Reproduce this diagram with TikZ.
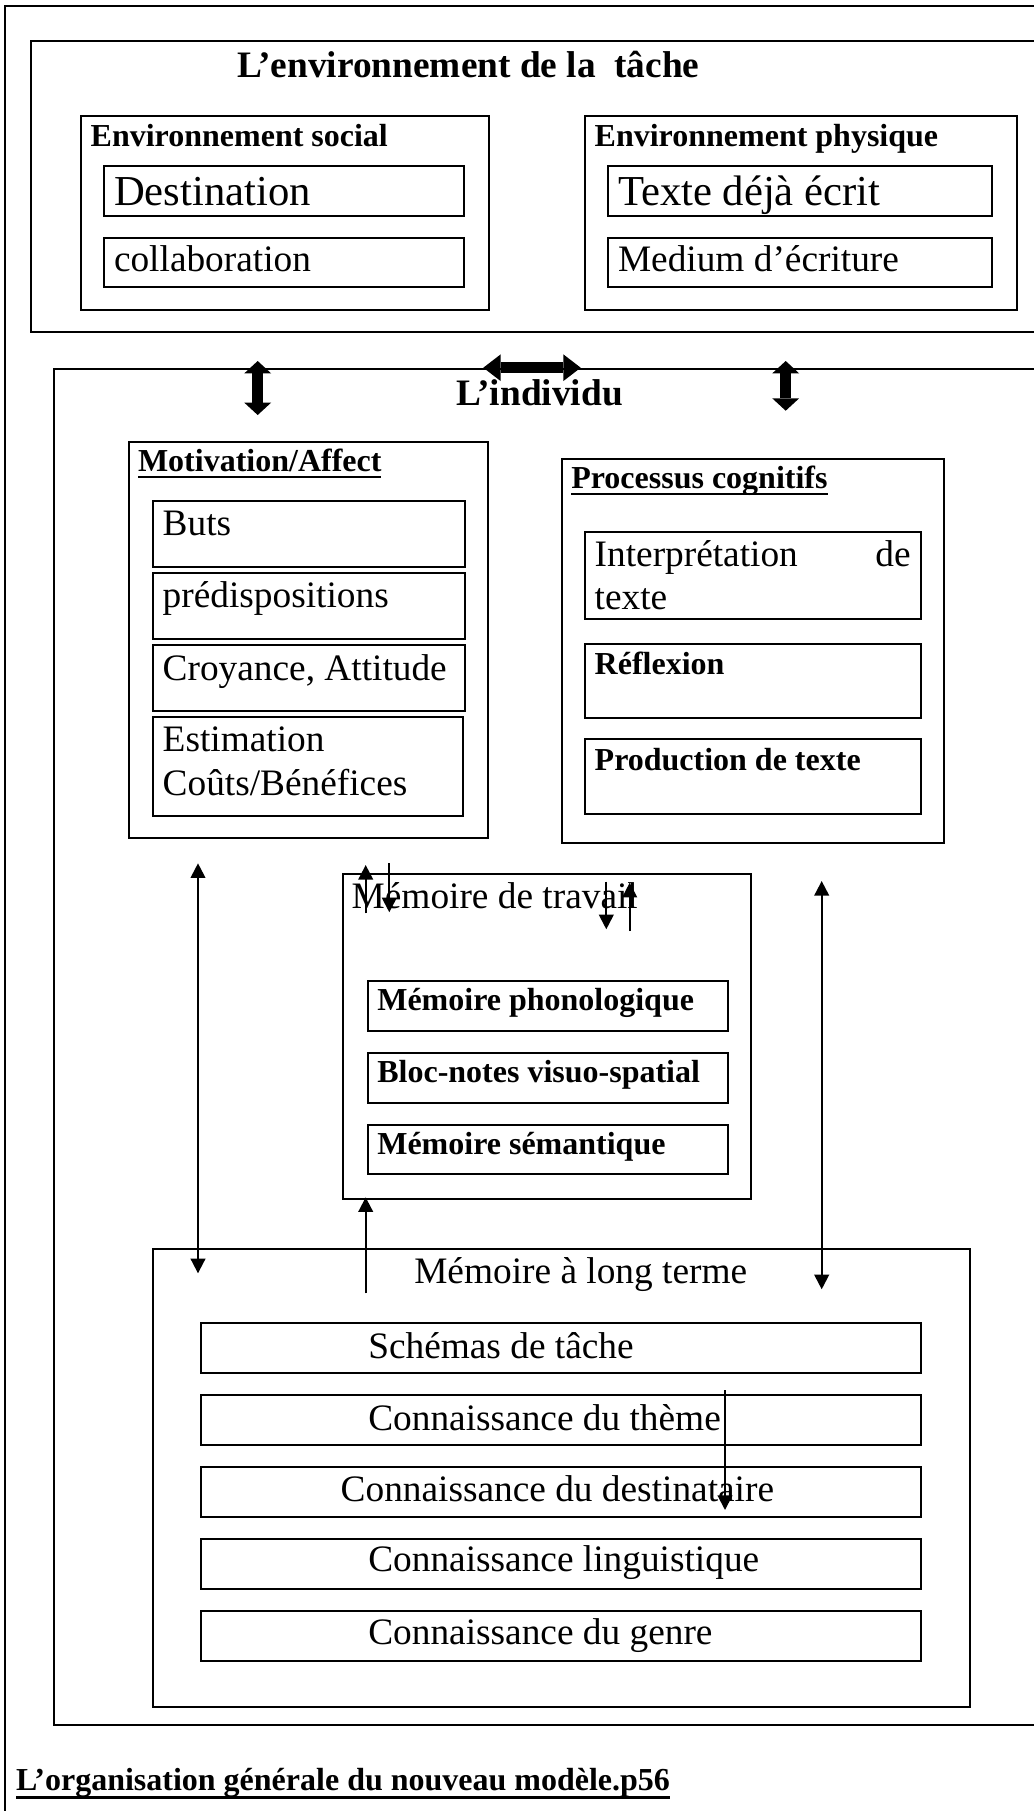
\documentclass[tikz,border=0pt]{standalone}
\usepackage{fontspec}
\setmainfont{Liberation Serif}
\usetikzlibrary{arrows.meta}
\newcommand\szA{\fontsize{12pt}{14pt}\selectfont}
\newcommand\szB{\fontsize{14pt}{16pt}\selectfont}
\newcommand\szC{\fontsize{16pt}{19pt}\selectfont}
\newcommand\mybox[5]{\node[bx, minimum width={(#4-#2)*0.375pt}, minimum height={(#5-#3)*0.375pt}] (#1) at (#2,#3) {};}
\begin{document}
\begin{tikzpicture}[x=0.375pt,y=-0.375pt,
  bx/.style={draw, line width=0.75pt, inner sep=0pt, outer sep=0pt, anchor=north west},
  frame/.style={draw, line width=0.75pt},
  lbl/.style={anchor=base west, inner sep=0pt, outer sep=0pt, font=\szB},
  lblbig/.style={anchor=base west, inner sep=0pt, outer sep=0pt, font=\szC},
  lblb/.style={anchor=base west, inner sep=0pt, outer sep=0pt, font=\szA\bfseries},
  lblt/.style={anchor=base west, inner sep=0pt, outer sep=0pt, font=\szB\bfseries},
  uline/.style={line width=1pt},
  ar/.style={line width=0.75pt, -{Triangle[length=5.5pt,width=5.5pt]}},
  artwo/.style={line width=0.75pt, {Triangle[length=5.5pt,width=5.5pt]}-{Triangle[length=5.5pt,width=5.5pt]}},
  bigv/.style={line width=4.3pt, {Triangle[length=4.6pt,width=10pt,line width=0pt]}-{Triangle[length=4.6pt,width=10pt,line width=0pt]}},
  bigh/.style={line width=4.3pt, {Triangle[length=6.5pt,width=10pt,line width=0pt]}-{Triangle[length=6.5pt,width=10pt,line width=0pt]}}
]
\fill[white] (0,0) rectangle (1034,1811);
\useasboundingbox (0,0) rectangle (1034,1811);

% open frames (cut by the picture edge)
\draw[frame] (1034,6) -- (5.3,6) -- (5.3,1811);
\draw[frame] (1034,41) -- (30.7,41) -- (30.7,331.7) -- (1034,331.7);
\draw[frame] (1034,369.3) -- (53.7,369.3) -- (53.7,1725) -- (1034,1725);

% task environment
\node[lblt] (titre) at (237,77) {L’environnement de la\ \ tâche};
\mybox{social}{80.7}{116}{489}{310}
\node[lblb] (socialt) at (90.7,146) {Environnement social};
\mybox{dest}{103.7}{165.7}{464}{216}
\node[lblbig] (destt) at (114,205) {Destination};
\mybox{collab}{103.7}{237.7}{464}{286.7}
\node[lbl] (collabt) at (114,271.7) {collaboration};
\mybox{phys}{584.7}{116}{1017.3}{310}
\node[lblb] (physt) at (594.7,146) {Environnement physique};
\mybox{texte}{607.7}{166}{992.3}{216}
\node[lblbig] (textet) at (618,205) {Texte déjà écrit};
\mybox{medium}{607.7}{238}{992.3}{287}
\node[lbl] (mediumt) at (618,271.7) {Medium d’écriture};

% individual
\node[lblt] (indiv) at (456,405) {L’individu};

\mybox{motiv}{128.7}{442}{488.3}{838}
\node[lblb] (motivt) at (138,471) {Motivation/Affect};
\draw[uline] ([yshift=-2.2pt]motivt.base west) -- ([yshift=-2.2pt]motivt.base east);
\mybox{buts}{152.7}{501}{465}{566.7}
\node[lbl] (butst) at (162.7,535) {Buts};
\mybox{predis}{152.7}{572.7}{465}{638.7}
\node[lbl] (predist) at (162.7,607.3) {prédispositions};
\mybox{croy}{152.7}{644.7}{465}{711}
\node[lbl] (croyt) at (162.7,680) {Croyance, Attitude};
\mybox{estim}{152.7}{716.7}{463.3}{815.7}
\node[lbl] (estimt) at (162.7,751) {Estimation};
\node[lbl] (coutst) at (162.7,795) {Coûts/Bénéfices};

\mybox{proc}{561.7}{458.7}{944}{843.3}
\node[lblb] (proct) at (571.3,488.7) {Processus cognitifs};
\draw[uline] ([yshift=-2pt]proct.base west) -- ([yshift=-2pt]proct.base east);
\mybox{interp}{584.7}{532}{921.3}{619.3}
\node[lbl] (interpt) at (594.7,566.7) {Interprétation};
\node[lbl, anchor=base east] (interpde) at (910.7,566.7) {de};
\node[lbl] (interpt2) at (594.7,609) {texte};
\mybox{reflex}{584.7}{644}{921.3}{717.7}
\node[lblb] (reflext) at (594.7,674) {Réflexion};
\mybox{prod}{584.7}{739.3}{921.3}{813.7}
\node[lblb] (prodt) at (594.7,770) {Production de texte};

% working memory
\mybox{wm}{342.7}{874}{751}{1199}
\node[lbl] (wmt) at (351.7,908.3) {Mémoire de travail};
\mybox{phono}{367.7}{981}{727.7}{1031}
\node[lblb] (phonot) at (377.3,1010.7) {Mémoire phonologique};
\mybox{bloc}{367.7}{1052.7}{727.7}{1102.7}
\node[lblb] (bloct) at (377.3,1082.7) {Bloc-notes visuo-spatial};
\mybox{sem}{367.7}{1124.7}{727.7}{1174.3}
\node[lblb] (semt) at (377.3,1154) {Mémoire sémantique};

% long term memory
\mybox{ltm}{152.7}{1249.3}{969.7}{1706.7}
\node[lbl] (ltmt) at (414.3,1283.3) {Mémoire à long terme};
\mybox{schemas}{200.7}{1322.7}{921.3}{1372.7}
\node[lbl] (schemast) at (368.3,1358.3) {Schémas de tâche};
\mybox{theme}{200.7}{1395}{921.3}{1444.7}
\node[lbl] (themet) at (368.3,1430) {Connaissance du thème};
\mybox{destin}{200.7}{1466.7}{921.3}{1516.7}
\node[lbl] (destint) at (340.7,1501.7) {Connaissance du destinataire};
\mybox{ling}{200.7}{1539}{921.3}{1588.7}
\node[lbl] (lingt) at (368.3,1571.7) {Connaissance linguistique};
\mybox{genre}{200.7}{1610.7}{921.3}{1660.7}
\node[lbl] (genret) at (368.3,1644) {Connaissance du genre};

% caption
\node[lblb] (caption) at (16,1790) {L’organisation générale du nouveau modèle.p56};
\draw[line width=1.1pt] ([yshift=-2.9pt]caption.base west) -- ([yshift=-2.9pt]caption.base east);

% thick double arrows
\coordinate (ta1) at (257.7,361); \coordinate (ta2) at (257.7,415);
\coordinate (tb1) at (785.7,361); \coordinate (tb2) at (785.7,410.7);
\coordinate (tc1) at (483.3,367.7); \coordinate (tc2) at (580.7,367.7);
\draw[bigv] (ta1) -- (ta2);
\draw[bigv] (tb1) -- (tb2);
\draw[bigh] (tc1) -- (tc2);

% thin arrows
\coordinate (l1) at (198,863.3); \coordinate (l2) at (198,1273.3);
\draw[artwo] (l1) -- (l2);
\coordinate (r1) at (821.7,881); \coordinate (r2) at (821.7,1289.3);
\draw[artwo] (r1) -- (r2);
\coordinate (u1) at (365.7,1293.3); \coordinate (u2) at (365.7,1197.3);
\draw[ar] (u1) -- (u2);
\coordinate (w1a) at (365.7,913.3); \coordinate (w1b) at (365.7,865);
\draw[ar] (w1a) -- (w1b);
\coordinate (w2a) at (389.3,863.3); \coordinate (w2b) at (389.3,912.3);
\draw[ar] (w2a) -- (w2b);
\coordinate (w3a) at (606.3,881.7); \coordinate (w3b) at (606.3,929.3);
\draw[ar] (w3a) -- (w3b);
\coordinate (w4a) at (629.7,931); \coordinate (w4b) at (629.7,882.7);
\draw[ar] (w4a) -- (w4b);
\coordinate (k1) at (725,1390); \coordinate (k2) at (725,1510);
\draw[ar] (k1) -- (k2);
\end{tikzpicture}
\end{document}
